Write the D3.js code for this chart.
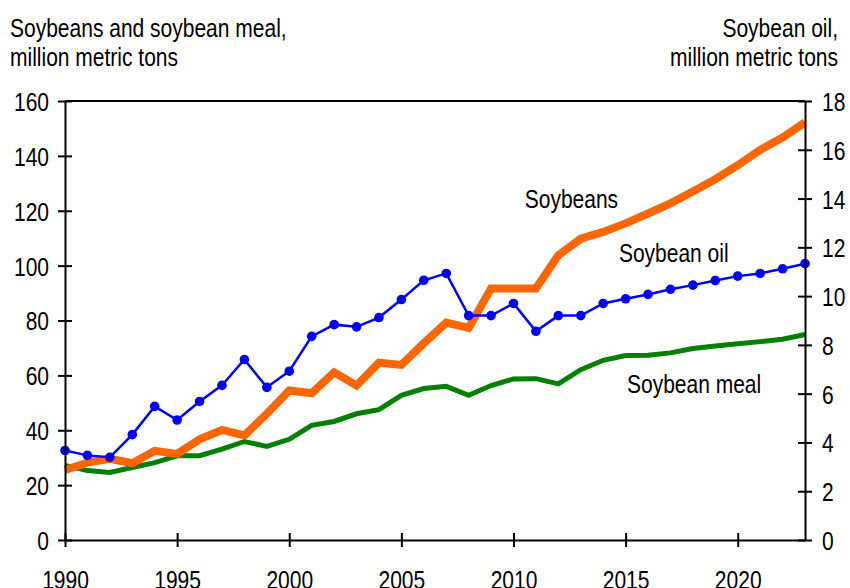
<!DOCTYPE html>
<html>
<head>
<meta charset="utf-8">
<script src="https://cdn.jsdelivr.net/npm/d3@7"></script>
<style>
  body { margin: 0; background: #fff; }
  svg { display: block; font-family: "Liberation Sans", Arial, sans-serif; }
  .chart-line { fill: none; }
</style>
</head>
<body>
<svg id="chart"></svg>
<script>
// data
const years = d3.range(1990, 2024);
const soybeans = [25.5, 28.2, 29.6, 28, 32.5, 31.4, 36.7, 40.1, 38.1, 46,
  54.5, 53.5, 61.1, 56.3, 64.6, 63.8, 71.7, 79.2, 77.3, 91.7,
  91.7, 91.7, 103.8, 109.8, 112.3, 115.4, 119, 122.7, 127, 131.5,
  136.6, 142.2, 146.7, 152.2];
const soybeanMeal = [27.2, 25.3, 24.6, 26.4, 28.2, 30.7, 30.7, 33.1, 35.9, 34.1,
  36.7, 41.8, 43.2, 46, 47.5, 52.7, 55.2, 56, 52.7, 56.3,
  58.7, 58.8, 56.9, 62.1, 65.5, 67.2, 67.3, 68.2, 69.8, 70.7,
  71.5, 72.3, 73.2, 74.9];
const soybeanOil = [3.67, 3.47, 3.39, 4.32, 5.48, 4.92, 5.68, 6.34, 7.4, 6.26,
  6.92, 8.35, 8.83, 8.74, 9.12, 9.86, 10.65, 10.93, 9.2, 9.2,
  9.7, 8.56, 9.2, 9.2, 9.7, 9.89, 10.07, 10.28, 10.45, 10.64,
  10.82, 10.93, 11.12, 11.33];
const xTicks = [1990, 1995, 2000, 2005, 2010, 2015, 2020];
const leftTicks = [0, 20, 40, 60, 80, 100, 120, 140, 160];
const rightTicks = [0, 2, 4, 6, 8, 10, 12, 14, 16, 18];
const leftTitle = ['Soybeans and soybean meal,', 'million metric tons'];
const rightTitle = ['Soybean oil,', 'million metric tons'];
// series labels: [text, year, value, axis]
const seriesLabels = [
  ['Soybeans', 2010.5, 124.6, 'left'],
  ['Soybean oil', 2014.7, 11.77, 'right'],
  ['Soybean meal', 2015.06, 57.2, 'left']
];

class DualLine {
  constructor(_config) {
    this.config = {
      parentElement: _config.parentElement,
      containerWidth: _config.containerWidth || 850,
      containerHeight: _config.containerHeight || 588,
      margin: { top: 101, bottom: 48, right: 45, left: 65 },
      stretch: 1.25  // text in the original is drawn taller than it is wide
    }
    this.initVis();
  }

  initVis() {
    let vis = this;
    vis.width = vis.config.containerWidth - vis.config.margin.left - vis.config.margin.right;
    vis.height = vis.config.containerHeight - vis.config.margin.top - vis.config.margin.bottom;

    vis.xScale = d3.scaleLinear().domain([1990, 2023]).range([0, vis.width]);
    vis.yLeft = d3.scaleLinear().domain([0, 160]).range([vis.height, 0]);
    vis.yRight = d3.scaleLinear().domain([0, 18]).range([vis.height, 0]);

    vis.svg = d3.select(vis.config.parentElement)
      .attr('width', vis.config.containerWidth)
      .attr('height', vis.config.containerHeight);

    vis.chart = vis.svg.append('g')
      .attr('transform', `translate(${vis.config.margin.left},${vis.config.margin.top})`);

    vis.renderVis();
  }

  // text helper, stretched vertically round its anchor
  addText(parent, x, y, str, anchor, dy) {
    return parent.append('text')
      .attr('transform', `translate(${x},${y}) scale(1,${this.config.stretch})`)
      .attr('text-anchor', anchor)
      .attr('dy', dy)
      .style('font-size', '21px')
      .attr('fill', '#000')
      .text(str);
  }

  renderVis() {
    let vis = this;

    // lines
    const series = [
      { vals: soybeanMeal, y: vis.yLeft, color: '#008000', w: 5 },
      { vals: soybeans, y: vis.yLeft, color: '#ff6600', w: 8 },
      { vals: soybeanOil, y: vis.yRight, color: '#0000ff', w: 2.5 }
    ];
    series.forEach(s => {
      const line = d3.line()
        .x((d, i) => vis.xScale(years[i]))
        .y(d => s.y(d));
      vis.chart.append('path')
        .datum(s.vals)
        .attr('class', 'chart-line')
        .attr('stroke', s.color)
        .attr('stroke-width', s.w)
        .attr('d', line);
    });

    vis.chart.selectAll('.oil-dot')
      .data(soybeanOil)
      .join('circle')
      .attr('class', 'oil-dot')
      .attr('cx', (d, i) => vis.xScale(years[i]))
      .attr('cy', d => vis.yRight(d))
      .attr('r', 4.8)
      .attr('fill', '#0000ff');

    // axes
    vis.xAxisG = vis.chart.append('g')
      .attr('transform', `translate(0,${vis.height})`)
      .call(d3.axisBottom(vis.xScale).tickValues(xTicks).tickFormat(d3.format('d')).tickSizeOuter(0));
    vis.yAxisG = vis.chart.append('g')
      .call(d3.axisLeft(vis.yLeft).tickValues(leftTicks).tickSizeOuter(0));
    vis.y2AxisG = vis.chart.append('g')
      .attr('transform', `translate(${vis.width},0)`)
      .call(d3.axisRight(vis.yRight).tickValues(rightTicks).tickSizeOuter(0));

    [vis.xAxisG, vis.yAxisG, vis.y2AxisG].forEach(g => {
      g.select('.domain').attr('stroke', '#000').attr('stroke-width', 2);
      g.selectAll('.tick line').attr('stroke', '#000').attr('stroke-width', 2);
      g.selectAll('.tick text').remove();
    });
    // ticks cross the axis line
    vis.xAxisG.selectAll('.tick line').attr('y1', -7).attr('y2', 7);
    vis.yAxisG.selectAll('.tick line').attr('x1', -7).attr('x2', 7);
    vis.y2AxisG.selectAll('.tick line').attr('x1', -7).attr('x2', 7);

    vis.xAxisG.selectAll('.tick').each(function (d) {
      vis.addText(d3.select(this), 0, 30, d, 'middle', '0.72em');
    });
    vis.yAxisG.selectAll('.tick').each(function (d) {
      vis.addText(d3.select(this), -16, 0, d, 'end', '0.36em');
    });
    vis.y2AxisG.selectAll('.tick').each(function (d) {
      vis.addText(d3.select(this), 17, 0, d, 'start', '0.36em');
    });

    // top border
    vis.chart.append('line')
      .attr('x1', 0).attr('x2', vis.width)
      .attr('y1', 0).attr('y2', 0)
      .attr('stroke', '#000').attr('stroke-width', 2);

    // axis titles
    leftTitle.forEach((t, i) => vis.addText(vis.svg, 10, 37 + i * 29, t, 'start', 0));
    rightTitle.forEach((t, i) => vis.addText(vis.svg, 838, 37 + i * 29, t, 'end', 0));

    // series labels
    seriesLabels.forEach(l => {
      const y = l[3] === 'left' ? vis.yLeft(l[2]) : vis.yRight(l[2]);
      vis.addText(vis.chart, vis.xScale(l[1]), y, l[0], 'start', '0.36em');
    });
  }
}

new DualLine({ parentElement: '#chart' });
</script>
</body>
</html>
